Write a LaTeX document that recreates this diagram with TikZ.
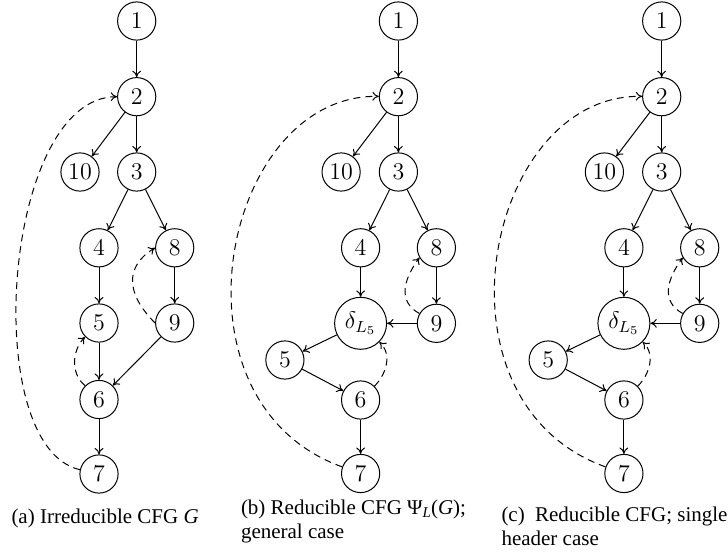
\documentclass[tikz,border=0pt]{standalone}
\usepackage{fontspec}
\newfontfamily\capfont{Liberation Serif}
\usetikzlibrary{arrows.meta}

% Reducible CFG: nodes named #1<n>, central column at x = #2
\newcommand\reducedcfg[2]{%
  \node[vtx] (#11)  at (#2,21)        {1};
  \node[vtx] (#12)  at (#2,96.7)      {2};
  \node[vtx] (#110) at ({#2-57.3},172) {10};
  \node[vtx] (#13)  at (#2,172)       {3};
  \node[vtx] (#14)  at ({#2-37.8},247.8) {4};
  \node[vtx] (#18)  at ({#2+38},247.8)   {8};
  \node[hdr] (#1d)  at ({#2-37.8},323.3) {$\delta_{L_5}$};
  \node[vtx] (#19)  at ({#2+38},323.3)   {9};
  \node[vtx] (#15)  at ({#2-113.5},360)  {5};
  \node[vtx] (#16)  at ({#2-37.8},400)   {6};
  \node[vtx] (#17)  at ({#2-37.8},473.5) {7};
  \draw[edge] (#11) -- (#12);
  \draw[edge] (#12) -- (#110);
  \draw[edge] (#12) -- (#13);
  \draw[edge] (#13) -- (#14);
  \draw[edge] (#13) -- (#18);
  \draw[edge] (#14) -- (#1d);
  \draw[edge] (#18) -- (#19);
  \draw[edge] (#19) -- (#1d);
  \draw[edge] (#1d) -- (#15);
  \draw[edge] (#15) -- (#16);
  \draw[edge] (#16) -- (#17);
  \draw[back] (#17) .. controls +(-200,-72) and +(-176,-3) .. (#12);
  \draw[back] (#19.150) .. controls +(-22,-12) and +(-16,22) .. (#18.210);
  \draw[back] (#16.45) .. controls +(12,-12) and +(13,12) .. (#1d.-45);
}

\begin{document}
\begin{tikzpicture}[x=0.5pt,y=-0.5pt,
  line width=0.5pt,
  vtx/.style={draw,circle,minimum size=19.1pt,inner sep=0pt,font=\large},
  hdr/.style={draw,circle,minimum size=26pt,inner sep=0pt,font=\large},
  edge/.style={-{To[length=3.2pt,width=4.4pt]}},
  back/.style={edge,dash pattern=on 3.5pt off 2.5pt},
  captext/.style={anchor=base west,inner sep=0pt,font=\capfont\fontsize{10.5}{12.6}\selectfont}]
\useasboundingbox (0,0) rectangle (728,558);

% (a) irreducible graph
\node[vtx] (a1)  at (136.7,21)    {1};
\node[vtx] (a2)  at (136.7,96.7)  {2};
\node[vtx] (a10) at (80,172)      {10};
\node[vtx] (a3)  at (136.7,172)   {3};
\node[vtx] (a4)  at (99,247.8)    {4};
\node[vtx] (a8)  at (174.7,247.8) {8};
\node[vtx] (a5)  at (99,323)      {5};
\node[vtx] (a9)  at (174.7,323)   {9};
\node[vtx] (a6)  at (99,399.5)    {6};
\node[vtx] (a7)  at (99,474)      {7};
\draw[edge] (a1) -- (a2);
\draw[edge] (a2) -- (a10);
\draw[edge] (a2) -- (a3);
\draw[edge] (a3) -- (a4);
\draw[edge] (a3) -- (a8);
\draw[edge] (a4) -- (a5);
\draw[edge] (a8) -- (a9);
\draw[edge] (a5) -- (a6);
\draw[edge] (a9) -- (a6);
\draw[edge] (a6) -- (a7);
\draw[back] (a7) .. controls +(-120.4,-27.2) and +(-134,0) .. (a2);
\draw[back] (a9.west) .. controls +(-30,-30) and +(-30,18) .. (a8.west);
\draw[back] (a6.135) .. controls +(-15,-12) and +(-13,13) .. (a5.225);

% (b) and (c) reducible graphs
\reducedcfg{b}{398.4}
\reducedcfg{c}{661.7}

% captions
\node[captext] (capa) at (11,523.3) {(a) Irreducible CFG \textit{G}};
\node[captext] (capb1) at (240.5,514.3) {(b) Reducible CFG Ψ\raisebox{-0.3ex}{\fontsize{7.5}{8}\selectfont\textit{L}}(\textit{G});};
\node[captext] (capb2) at (240.5,538.3) {general case};
\node[captext] (capc1) at (501,521) {\makebox[113pt][s]{(c)\hfill Reducible CFG; single}};
\node[captext] (capc2) at (501,545.7) {header case};
\end{tikzpicture}
\end{document}
